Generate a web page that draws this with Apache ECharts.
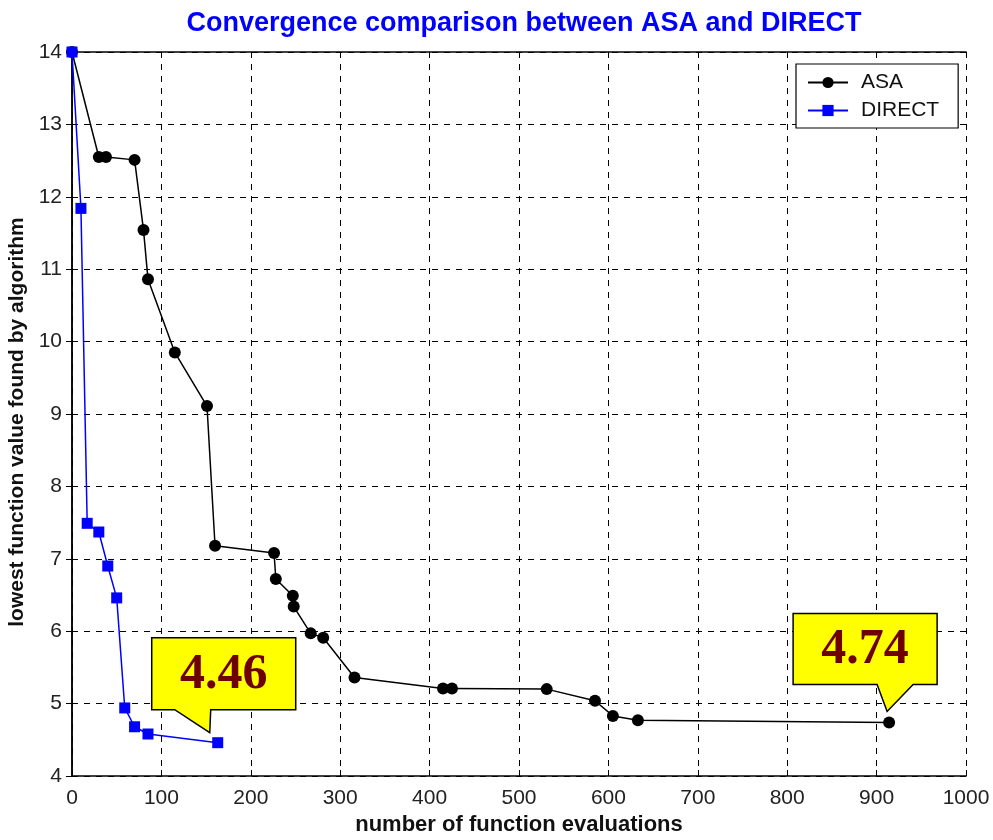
<!DOCTYPE html>
<html>
<head>
<meta charset="utf-8">
<script src="https://cdn.jsdelivr.net/npm/echarts@6/dist/echarts.min.js"></script>
<style>
html,body{margin:0;padding:0;background:#fff;}
#chart{width:993px;height:840px;}
</style>
</head>
<body>
<div id="chart"></div>
<script>
const titleText = 'Convergence comparison between ASA and DIRECT';
const xAxisTitle = 'number of function evaluations';
const yAxisTitle = 'lowest function value found by algorithm';
const seriesNames = ['ASA', 'DIRECT'];
const asaX = [0, 30, 38, 70, 80, 85, 115, 151, 160, 226, 228, 247, 248, 267, 281, 316, 415, 425, 531, 585, 605, 633, 914];
const asaY = [14, 12.55, 12.55, 12.51, 11.54, 10.86, 9.85, 9.11, 7.18, 7.08, 6.72, 6.49, 6.34, 5.97, 5.91, 5.36, 5.21, 5.21, 5.20, 5.04, 4.83, 4.77, 4.74];
const directX = [0, 10, 17, 30, 40, 50, 59, 70, 85, 163];
const directY = [14, 11.84, 7.49, 7.37, 6.90, 6.46, 4.94, 4.68, 4.58, 4.46];
const calloutLabels = ['4.74', '4.46'];
const xTicks = [0, 100, 200, 300, 400, 500, 600, 700, 800, 900, 1000];
const yTicks = [4, 5, 6, 7, 8, 9, 10, 11, 12, 13, 14];

const chart = echarts.init(document.getElementById('chart'), null, {renderer: 'canvas'});
const pair = (xs, ys) => xs.map((x, i) => [x, ys[i]]);
const tickFont = {fontFamily: 'Liberation Sans, Arial', fontSize: 21, color: '#222'};

const option = {
  backgroundColor: '#fff',
  animation: false,
  title: {
    text: titleText, left: 519, top: 5, textAlign: 'center',
    textStyle: {color: '#0000ff', fontFamily: 'Liberation Sans, Arial', fontWeight: 'bold', fontSize: 27}
  },
  legend: {
    orient: 'vertical', left: 796, top: 64,
    padding: [8, 19, 7, 11], itemGap: 7, itemWidth: 40, itemHeight: 14,
    backgroundColor: '#fff', borderColor: '#000', borderWidth: 1.2, borderRadius: 0,
    textStyle: {fontFamily: 'Liberation Sans, Arial', fontSize: 21, color: '#111', padding: [0, 0, 0, 8]},
    data: seriesNames
  },
  grid: {left: 72, right: 27, top: 52, bottom: 64, containLabel: false, outerBoundsMode: 'none'},
  xAxis: [{
    type: 'value', min: xTicks[0], max: xTicks[xTicks.length - 1], interval: 100,
    name: xAxisTitle, nameLocation: 'middle', nameGap: 36,
    nameTextStyle: {fontFamily: 'Liberation Sans, Arial', fontWeight: 'bold', fontSize: 22, color: '#111'},
    axisLine: {show: true, lineStyle: {color: '#000', width: 1.5}},
    axisTick: {show: true, inside: true, length: 6, lineStyle: {color: '#000'}},
    axisLabel: Object.assign({margin: 12, formatter: v => String(v)}, tickFont),
    splitLine: {show: true, lineStyle: {color: '#000', type: [6, 6], width: 1}}
  }, {
    type: 'value', position: 'top', min: xTicks[0], max: xTicks[xTicks.length - 1], interval: 100,
    axisLine: {show: true, lineStyle: {color: '#000', width: 1.5}},
    axisTick: {show: true, inside: true, length: 6, lineStyle: {color: '#000'}},
    axisLabel: {show: false}, splitLine: {show: false}
  }],
  yAxis: [{
    type: 'value', min: yTicks[0], max: yTicks[yTicks.length - 1], interval: 1,
    name: yAxisTitle, nameLocation: 'middle', nameGap: 42,
    nameTextStyle: {fontFamily: 'Liberation Sans, Arial', fontWeight: 'bold', fontSize: 21, color: '#111', padding: [0, 16, 0, 0]},
    axisLine: {show: true, lineStyle: {color: '#000', width: 1.5}},
    axisTick: {show: true, inside: true, length: 6, lineStyle: {color: '#000'}},
    axisLabel: Object.assign({margin: 10}, tickFont),
    splitLine: {show: true, lineStyle: {color: '#000', type: [6, 6], width: 1}}
  }, {
    type: 'value', position: 'right', min: yTicks[0], max: yTicks[yTicks.length - 1], interval: 1,
    axisLine: {show: true, lineStyle: {color: '#000', width: 1.5}},
    axisTick: {show: true, inside: true, length: 6, lineStyle: {color: '#000'}},
    axisLabel: {show: false}, splitLine: {show: false}
  }],
  series: [{
    name: seriesNames[0], type: 'line', data: pair(asaX, asaY),
    symbol: 'circle', symbolSize: 12,
    lineStyle: {color: '#000', width: 1.5}, itemStyle: {color: '#000'}, z: 3
  }, {
    name: seriesNames[1], type: 'line', data: pair(directX, directY),
    symbol: 'rect', symbolSize: 11,
    lineStyle: {color: '#0000ff', width: 1.5}, itemStyle: {color: '#0000ff'}, z: 4
  }]
};
chart.setOption(option);

// Callouts anchored to the final point of each series
function callout(pt, shape, label) {
  const p = chart.convertToPixel({xAxisIndex: 0, yAxisIndex: 0}, pt);
  const pts = shape.poly.map(([dx, dy]) => [p[0] + dx, p[1] + dy]);
  return [{
    type: 'polygon', z: 100, shape: {points: pts},
    style: {fill: '#ffff00', stroke: '#000', lineWidth: 1.5}
  }, {
    type: 'text', z: 101, x: p[0] + shape.cx, y: p[1] + shape.cy,
    style: {text: label, fill: '#6e0000', font: 'bold 50px "Liberation Serif", "Times New Roman", serif',
      align: 'center', verticalAlign: 'middle'}
  }];
}
const shapeA = {poly: [[-96, -109], [48, -109], [48, -38], [24, -38], [-2, -11], [-12, -38], [-96, -38]], cx: -24, cy: -72};
const shapeD = {poly: [[-66, -105], [78, -105], [78, -33], [-7, -33], [-8, -10], [-43, -33], [-66, -33]], cx: 6, cy: -68};
const lastA = [asaX[asaX.length - 1], asaY[asaY.length - 1]];
const lastD = [directX[directX.length - 1], directY[directY.length - 1]];
chart.setOption({graphic: [].concat(callout(lastA, shapeA, calloutLabels[0]), callout(lastD, shapeD, calloutLabels[1]))});
</script>
</body>
</html>
